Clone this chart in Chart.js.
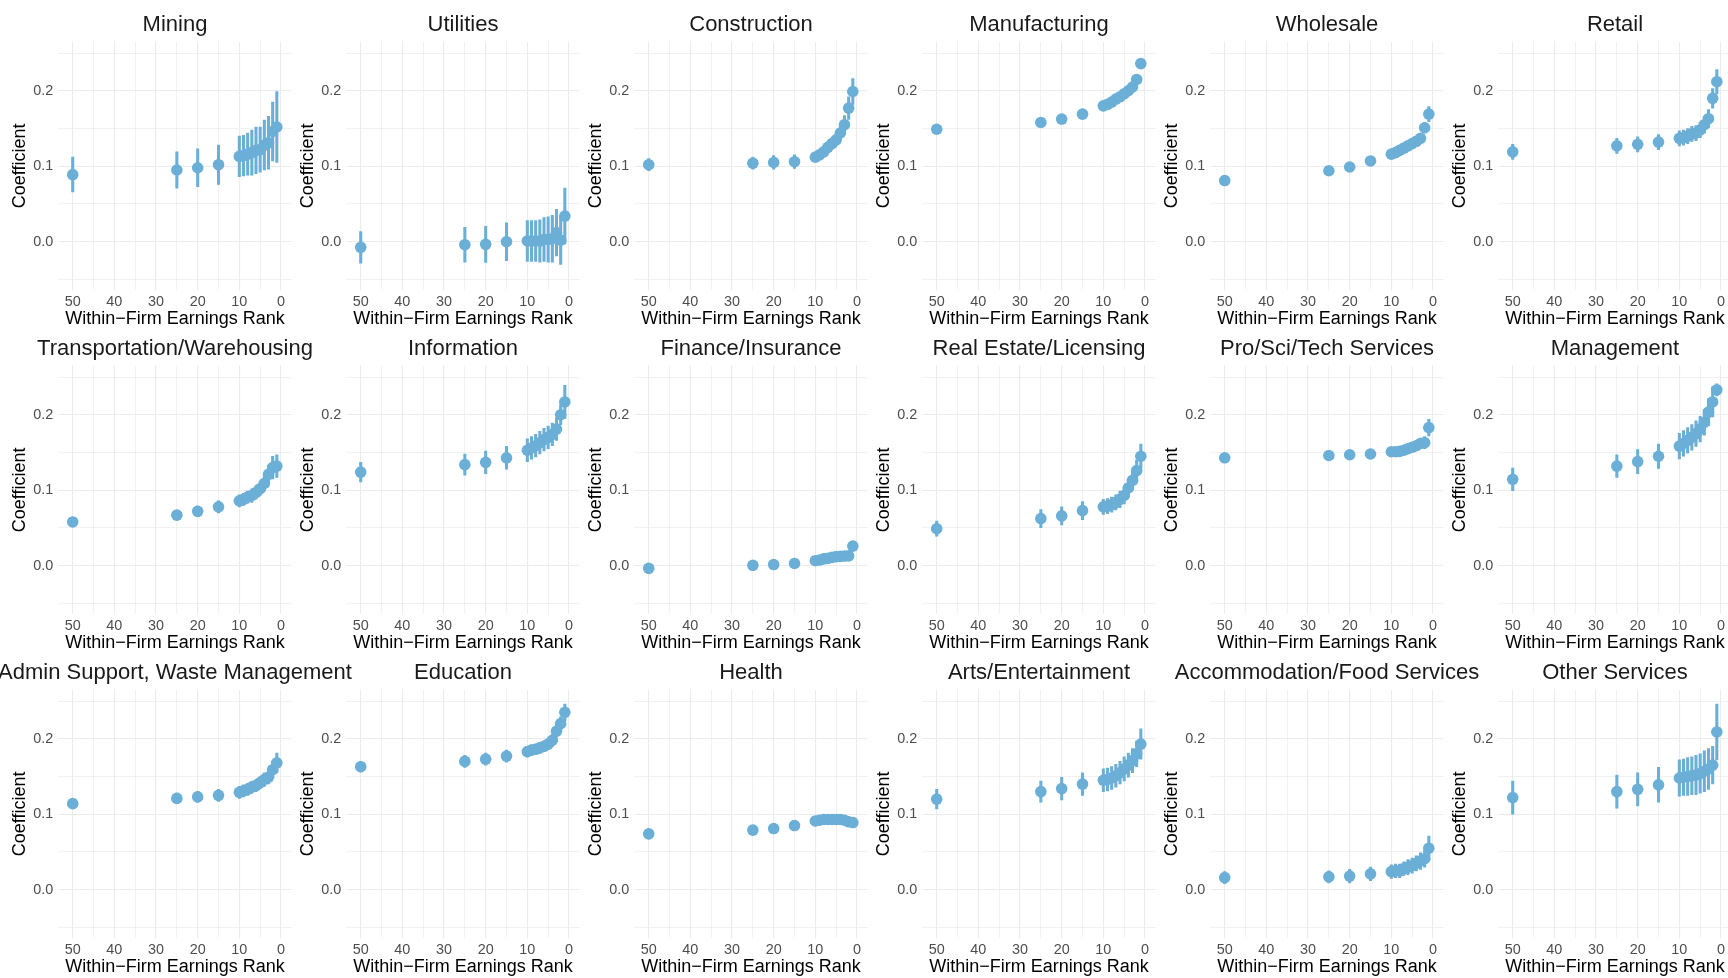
<!DOCTYPE html>
<html>
<head>
<meta charset="utf-8">
<script src="https://cdn.jsdelivr.net/npm/chart.js@4.4.1/dist/chart.umd.min.js"></script>
<style>
  html, body { margin: 0; padding: 0; background: #fff; }
  #wrap { position: relative; width: 1728px; height: 978px; overflow: hidden; }
  #wrap canvas { position: absolute; }
</style>
</head>
<body>
<div id="wrap"></div>
<script>
// industries, one panel each (row by row)
const industries = [
  'Mining', 'Utilities', 'Construction', 'Manufacturing', 'Wholesale', 'Retail',
  'Transportation/Warehousing', 'Information', 'Finance/Insurance', 'Real Estate/Licensing', 'Pro/Sci/Tech Services', 'Management',
  'Admin Support, Waste Management', 'Education', 'Health', 'Arts/Entertainment', 'Accommodation/Food Services', 'Other Services'
];

// within-firm earnings rank (x)
const ranks = [50, 25, 20, 15, 10, 9, 8, 7, 6, 5, 4, 3, 2, 1];

// point estimates, one row per industry
const coefs = [
  [0.089, 0.095, 0.098, 0.102, 0.113, 0.114, 0.116, 0.118, 0.121, 0.122, 0.128, 0.131, 0.146, 0.152],
  [-0.0075, -0.004, -0.0035, 0.0, 0.001, 0.001, 0.001, 0.001, 0.003, 0.003, 0.004, 0.012, 0.002, 0.034],
  [0.102, 0.104, 0.105, 0.106, 0.112, 0.115, 0.119, 0.125, 0.130, 0.135, 0.144, 0.155, 0.177, 0.199],
  [0.149, 0.158, 0.1625, 0.169, 0.180, 0.182, 0.185, 0.189, 0.192, 0.196, 0.200, 0.205, 0.215, 0.236],
  [0.081, 0.094, 0.099, 0.107, 0.116, 0.118, 0.121, 0.124, 0.127, 0.130, 0.133, 0.137, 0.151, 0.169],
  [0.119, 0.127, 0.129, 0.132, 0.137, 0.138, 0.140, 0.143, 0.144, 0.148, 0.155, 0.163, 0.190, 0.212],
  [0.058, 0.067, 0.072, 0.078, 0.086, 0.088, 0.091, 0.093, 0.097, 0.102, 0.109, 0.121, 0.130, 0.132],
  [0.124, 0.134, 0.137, 0.143, 0.153, 0.156, 0.159, 0.163, 0.167, 0.170, 0.174, 0.181, 0.200, 0.217],
  [-0.0035, 0.0005, 0.0015, 0.003, 0.0066, 0.0075, 0.009, 0.0097, 0.011, 0.012, 0.0123, 0.0128, 0.013, 0.026],
  [0.049, 0.0625, 0.066, 0.073, 0.078, 0.079, 0.081, 0.084, 0.088, 0.093, 0.103, 0.113, 0.126, 0.145],
  [0.143, 0.146, 0.147, 0.148, 0.151, 0.151, 0.1515, 0.153, 0.155, 0.157, 0.159, 0.162, 0.163, 0.183],
  [0.1145, 0.132, 0.138, 0.145, 0.1585, 0.162, 0.166, 0.170, 0.175, 0.181, 0.190, 0.2035, 0.217, 0.233],
  [0.114, 0.121, 0.123, 0.125, 0.129, 0.131, 0.133, 0.136, 0.138, 0.142, 0.146, 0.149, 0.159, 0.168],
  [0.163, 0.170, 0.173, 0.177, 0.183, 0.185, 0.186, 0.188, 0.190, 0.193, 0.198, 0.210, 0.220, 0.235],
  [0.074, 0.079, 0.081, 0.085, 0.091, 0.092, 0.093, 0.093, 0.093, 0.093, 0.093, 0.092, 0.090, 0.089],
  [0.120, 0.130, 0.134, 0.140, 0.145, 0.146, 0.148, 0.151, 0.155, 0.160, 0.165, 0.171, 0.180, 0.193],
  [0.016, 0.017, 0.018, 0.021, 0.024, 0.025, 0.025, 0.028, 0.030, 0.032, 0.035, 0.038, 0.041, 0.055],
  [0.122, 0.130, 0.133, 0.139, 0.148, 0.149, 0.150, 0.151, 0.152, 0.154, 0.157, 0.160, 0.165, 0.209]
];

// half-width of the confidence interval, same layout as coefs
const halfWidths = [
  [0.023, 0.024, 0.025, 0.026, 0.027, 0.027, 0.028, 0.030, 0.031, 0.030, 0.033, 0.035, 0.039, 0.047],
  [0.021, 0.023, 0.024, 0.025, 0.027, 0.027, 0.027, 0.028, 0.029, 0.030, 0.031, 0.031, 0.032, 0.037],
  [0.008, 0.008, 0.009, 0.009, 0.006, 0.006, 0.006, 0.007, 0.007, 0.008, 0.009, 0.012, 0.015, 0.017],
  [0.004, 0.004, 0.004, 0.004, 0.004, 0.004, 0.004, 0.004, 0.004, 0.004, 0.004, 0.004, 0.005, 0.006],
  [0.004, 0.004, 0.004, 0.005, 0.004, 0.004, 0.004, 0.004, 0.005, 0.005, 0.005, 0.005, 0.007, 0.010],
  [0.010, 0.010, 0.010, 0.010, 0.010, 0.010, 0.010, 0.010, 0.010, 0.010, 0.011, 0.012, 0.013, 0.016],
  [0.006, 0.006, 0.007, 0.008, 0.008, 0.008, 0.008, 0.009, 0.009, 0.009, 0.010, 0.012, 0.015, 0.015],
  [0.013, 0.014, 0.015, 0.015, 0.015, 0.015, 0.015, 0.015, 0.015, 0.015, 0.015, 0.015, 0.013, 0.022],
  [0.002, 0.002, 0.002, 0.002, 0.002, 0.002, 0.002, 0.002, 0.002, 0.002, 0.002, 0.002, 0.003, 0.006],
  [0.010, 0.012, 0.012, 0.012, 0.010, 0.010, 0.010, 0.010, 0.011, 0.011, 0.012, 0.013, 0.014, 0.016],
  [0.005, 0.005, 0.005, 0.005, 0.005, 0.005, 0.005, 0.005, 0.006, 0.006, 0.006, 0.007, 0.008, 0.011],
  [0.015, 0.015, 0.016, 0.016, 0.017, 0.017, 0.017, 0.017, 0.017, 0.017, 0.017, 0.018, 0.020, 0.008],
  [0.006, 0.007, 0.007, 0.008, 0.008, 0.008, 0.008, 0.008, 0.008, 0.008, 0.009, 0.009, 0.011, 0.013],
  [0.007, 0.008, 0.008, 0.008, 0.007, 0.007, 0.007, 0.007, 0.007, 0.007, 0.008, 0.008, 0.009, 0.011],
  [0.002, 0.002, 0.002, 0.002, 0.002, 0.002, 0.002, 0.002, 0.002, 0.002, 0.002, 0.002, 0.002, 0.002],
  [0.013, 0.014, 0.015, 0.015, 0.015, 0.015, 0.015, 0.015, 0.015, 0.016, 0.016, 0.016, 0.017, 0.020],
  [0.008, 0.008, 0.009, 0.009, 0.009, 0.009, 0.009, 0.009, 0.010, 0.010, 0.010, 0.011, 0.011, 0.016],
  [0.022, 0.022, 0.022, 0.023, 0.024, 0.024, 0.025, 0.025, 0.026, 0.026, 0.027, 0.027, 0.025, 0.037]
];

// grid breaks
const xTicks = [0, 5, 10, 15, 20, 25, 30, 35, 40, 45, 50];
const yTicks = [-0.05, 0, 0.05, 0.1, 0.15, 0.2, 0.25];

const BLUE = '#6baed6';
const FONT = '"Liberation Sans", Arial, Helvetica, sans-serif';
Chart.defaults.font.family = FONT;

// panel pitch and canvas size (canvas is wider than the pitch so long titles fit)
const COL_W = 288, ROW_H = 324, CW = 420, CH = 330, SHIFT = 35;

const isMajorY = v => Math.abs(Math.round(v * 10) - v * 10) < 1e-6;
const isMajorX = v => v % 10 === 0;

// strip title, centred over the panel, not squeezed into it
const stripTitle = {
  id: 'stripTitle',
  afterDraw(chart, args, opts) {
    const { ctx, chartArea } = chart;
    ctx.save();
    ctx.font = '22px ' + FONT;
    ctx.fillStyle = '#1a1a1a';
    ctx.textAlign = 'center';
    ctx.textBaseline = 'middle';
    ctx.fillText(opts.text, (chartArea.left + chartArea.right) / 2, 24.5);
    ctx.restore();
  }
};

const wrap = document.getElementById('wrap');

industries.forEach((name, i) => {
  const col = i % 6, row = Math.floor(i / 6);
  const cv = document.createElement('canvas');
  cv.width = CW;
  cv.height = CH;
  cv.style.left = (col * COL_W - SHIFT) + 'px';
  cv.style.top = (row * ROW_H) + 'px';
  wrap.appendChild(cv);

  const points = ranks.map((r, k) => ({ x: r, y: coefs[i][k] }));
  const intervals = ranks.map((r, k) => ({ x: r, y: [coefs[i][k] - halfWidths[i][k], coefs[i][k] + halfWidths[i][k]] }));

  new Chart(cv, {
    type: 'bar',
    data: {
      datasets: [
        {
          type: 'scatter',
          data: points,
          backgroundColor: BLUE,
          pointRadius: 5.8,
          pointBorderWidth: 0,
          order: 0
        },
        {
          type: 'bar',
          data: intervals,
          backgroundColor: BLUE,
          borderWidth: 0,
          barThickness: 2.4,
          grouped: false,
          order: 1
        }
      ]
    },
    options: {
      responsive: false,
      animation: false,
      devicePixelRatio: 1,
      layout: { padding: { left: SHIFT, right: CW - SHIFT - 291.7, top: 41.7, bottom: 0 } },
      plugins: {
        legend: { display: false },
        tooltip: { enabled: false },
        title: { display: false },
        stripTitle: { text: name }
      },
      scales: {
        x: {
          type: 'linear',
          reverse: true,
          min: -2.57,
          max: 53.46,
          offset: false,
          afterBuildTicks: s => { s.ticks = xTicks.map(v => ({ value: v })); },
          afterFit: s => { s.height = 40; },
          grid: {
            offset: false,
            drawTicks: false,
            color: '#ebebeb',
            lineWidth: c => isMajorX(c.tick.value) ? 1.1 : 0.7
          },
          border: { display: false },
          ticks: {
            padding: 3.4,
            autoSkip: false,
            maxRotation: 0,
            color: '#4d4d4d',
            font: { size: 14.4 },
            callback: v => isMajorX(v) ? String(v) : ''
          },
          title: {
            display: true,
            text: 'Within\u2212Firm Earnings Rank',
            color: '#000',
            font: { size: 18 },
            padding: 0
          }
        },
        y: {
          min: -0.064,
          max: 0.265,
          afterBuildTicks: s => { s.ticks = yTicks.map(v => ({ value: v })); },
          afterFit: s => { s.width = 58.3; },
          grid: {
            drawTicks: false,
            color: '#ebebeb',
            lineWidth: c => isMajorY(c.tick.value) ? 1.1 : 0.7
          },
          border: { display: false },
          ticks: {
            padding: 5,
            color: '#4d4d4d',
            font: { size: 14.4 },
            callback: v => isMajorY(v) ? v.toFixed(1) : ''
          },
          title: {
            display: true,
            text: 'Coefficient',
            color: '#000',
            font: { size: 18 },
            padding: { top: 9.2, bottom: 0 }
          }
        }
      }
    },
    plugins: [stripTitle]
  });
});
</script>
</body>
</html>
